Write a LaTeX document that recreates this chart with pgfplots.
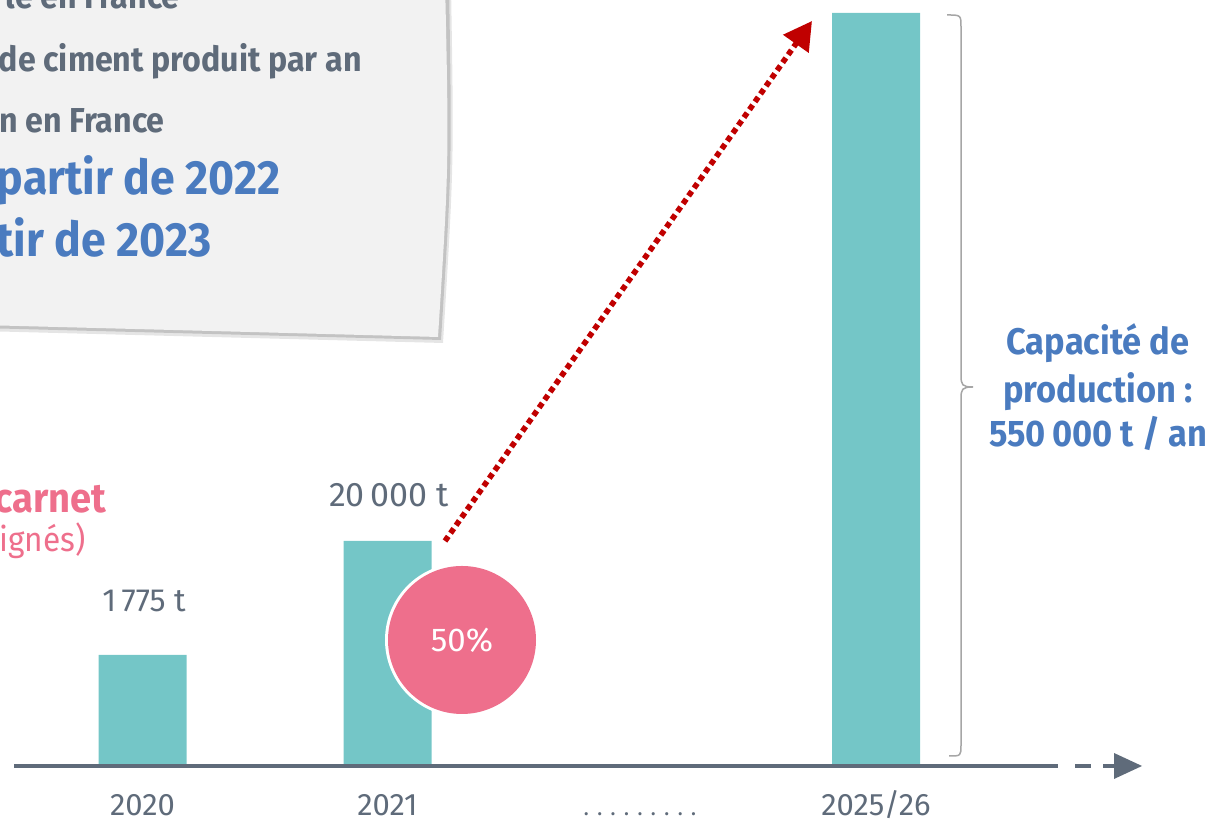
\documentclass[border=0pt]{standalone}
\usepackage{pgfplots}
\pgfplotsset{compat=1.18}
\usepackage{fontspec}
\setmainfont{Fira Sans}
\newfontfamily\narrow{Fira Sans}[FakeStretch=0.93]
\usetikzlibrary{arrows.meta}
\definecolor{barc}{HTML}{74C6C7}
\definecolor{slate}{HTML}{5F6B7A}
\definecolor{pinkc}{HTML}{EE6F8C}
\definecolor{bluec}{HTML}{4A7BBF}
\definecolor{redc}{HTML}{C00000}
\definecolor{boxc}{HTML}{F2F2F2}
\definecolor{bracec}{HTML}{A6A6A6}
\newcommand{\fs}[1]{\fontsize{#1}{#1}\selectfont}
\begin{document}
\begin{tikzpicture}
\begin{axis}[
  name=ax, scale only axis, width=606pt, height=411pt,
  xmin=0, xmax=1212, ymin=-57, ymax=765,
  axis line style={draw=none}, ytick=\empty,
  xtick={142.5,387.5,640,876},
  xticklabels={2020,2021,{\fs{11.3}. . . . . . . . .},2025/26},
  xtick style={draw=none},
  xticklabel style={anchor=base, inner sep=0pt, yshift=3pt, font=\fs{15.5}, text=slate},
  clip=false,
]
% grey note box
\fill[black, opacity=0.10] (axis cs:-20,779) -- (axis cs:451,779) .. controls (axis cs:454,600) .. (axis cs:443,422) .. controls (axis cs:250,427) .. (axis cs:-20,434) -- cycle;
\fill[black, opacity=0.15] (axis cs:-20,781) -- (axis cs:449,781) .. controls (axis cs:452,600) .. (axis cs:441,425) .. controls (axis cs:250,430) .. (axis cs:-20,437) -- cycle;
\fill[boxc] (axis cs:-20,785) -- (axis cs:445,785) .. controls (axis cs:449,600) .. (axis cs:438,428) .. controls (axis cs:250,433) .. (axis cs:-20,440) -- cycle;
\node[anchor=base east, inner sep=0, text=slate, font=\narrow\bfseries\fs{17.3}] at (axis cs:180,756) {le en France};
\node[anchor=base east, inner sep=0, text=slate, font=\narrow\bfseries\fs{17.3}] at (axis cs:362,693) {de ciment produit par an};
\node[anchor=base east, inner sep=0, text=slate, font=\narrow\bfseries\fs{17.3}] at (axis cs:165,632) {n en France};
\node[anchor=base east, inner sep=0, text=bluec, font=\narrow\bfseries\fs{24}] at (axis cs:281,570) {partir de 2022};
\node[anchor=base east, inner sep=0, text=bluec, font=\narrow\bfseries\fs{24}] at (axis cs:212,508) {tir de 2023};
% pink text
\node[anchor=base east, inner sep=0, text=pinkc, font=\narrow\bfseries\fs{20.5}] at (axis cs:107,252) {carnet};
\node[anchor=base east, inner sep=0, text=pinkc, font=\narrow\fs{17}] at (axis cs:86,213) {ignés)};
% bars
\addplot[ybar, fill=barc, draw=none, bar width=88] coordinates {(142.5,110) (387.5,224) (876,752)};
% baseline
\draw[slate, line width=2.2pt] (axis cs:14,-1) -- (axis cs:1058,-1);
\draw[slate, line width=2.2pt] (axis cs:1075,-1) -- (axis cs:1091,-1);
\draw[slate, line width=2.2pt] (axis cs:1103,-1) -- (axis cs:1116,-1);
\fill[slate] (axis cs:1114,12) -- (axis cs:1142,-1) -- (axis cs:1114,-14) -- cycle;
% value labels
\node[anchor=base, inner sep=0, text=slate, font=\fs{16}] at (axis cs:144,153) {1\,775 t};
\node[anchor=base, inner sep=0, text=slate, font=\fs{17}] at (axis cs:389,258) {20\,000 t};
% arrow
\draw[redc, line width=2.8pt, dash pattern=on 2.8pt off 2pt, -{Triangle[length=14pt,width=15pt]}] (axis cs:445,224) -- (axis cs:812,744);
% circle
\fill[white] (axis cs:462,125) circle[radius=38.5pt];
\fill[pinkc] (axis cs:462,125) circle[radius=37pt];
\node[text=white, font=\fs{16.5}] at (axis cs:462,125) {50\%};
% brace
\draw[bracec, line width=0.75pt] (axis cs:947,750) .. controls (axis cs:961,750) .. (axis cs:961,738) -- (axis cs:961,390) .. controls (axis cs:961,380) and (axis cs:962,378) .. (axis cs:973,378);
\draw[bracec, line width=0.75pt] (axis cs:973,378) .. controls (axis cs:962,378) and (axis cs:961,376) .. (axis cs:961,366) -- (axis cs:961,20) .. controls (axis cs:961,9) .. (axis cs:949,9);
\node[anchor=base, inner sep=0, text=bluec, font=\narrow\bfseries\fs{18.5}] at (axis cs:1098,410) {Capacité de};
\node[anchor=base, inner sep=0, text=bluec, font=\narrow\bfseries\fs{18.5}] at (axis cs:1098,362) {production :};
\node[anchor=base, inner sep=0, text=bluec, font=\narrow\bfseries\fs{18.5}] at (axis cs:1098,318) {550\,000 t / an};
\end{axis}
\pgfresetboundingbox
\path[use as bounding box] (ax.south west) rectangle (ax.north east);
\end{tikzpicture}
\end{document}
